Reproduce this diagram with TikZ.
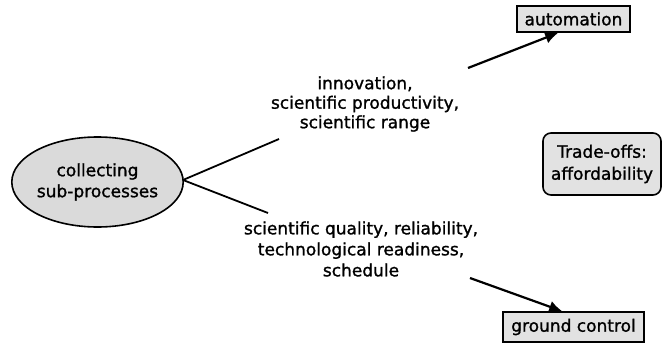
\documentclass[tikz,border=0pt]{standalone}
\usepackage{fontspec}
\setmainfont{DejaVu Sans}[FakeBold=1.2]
\usetikzlibrary{shapes.geometric,arrows.meta,calc}
\definecolor{fillgray}{HTML}{DADADA}
\definecolor{boxgray}{HTML}{E2E2E2}
\tikzset{
  txt/.style={align=center,font=\fontsize{17}{19.5}\selectfont,inner sep=0pt},
  txtlo/.style={align=center,font=\fontsize{17}{21}\selectfont,inner sep=0pt},
  oval/.style={ellipse,draw=black,line width=1.6pt,fill=fillgray,minimum width=168pt,minimum height=90pt,inner sep=0pt,align=center,font=\fontsize{17}{21}\selectfont},
  sqbox/.style={draw=black,line width=1.6pt,fill=boxgray,inner sep=0pt,font=\fontsize{17}{20}\selectfont},
  rbox/.style={draw=black,line width=1.6pt,fill=boxgray,rounded corners=8pt,inner sep=0pt,align=center,font=\fontsize{17}{22}\selectfont},
  branch/.style={line width=1.8pt},
  arr/.style={line width=2.2pt,-{Latex[length=13pt,width=12pt]}}
}
\begin{document}
\begin{tikzpicture}[x=1pt,y=-1pt]
\useasboundingbox (0,0) rectangle (662,343);
\node[oval] (src) at (97.5,182) {collecting\\sub-processes};
\node[txt] (up) at (365,104) {innovation,\\scientific productivity,\\scientific range};
\node[txtlo] (lo) at (361,249) {scientific quality, reliability,\\technological readiness,\\schedule};
\node[sqbox,minimum width=113pt,minimum height=26pt] (auto) at (573.5,19) {automation};
\node[sqbox,minimum width=141pt,minimum height=30pt] (gc) at (573.5,327) {ground control};
\node[rbox,minimum width=118pt,minimum height=62pt] (trade) at (602,164) {Trade-offs:\\affordability};
\coordinate (split) at (183,180);
\coordinate (ue) at (279,139);
\coordinate (le) at (268,213);
\draw[branch] (split) -- (ue);
\draw[branch] (split) -- (le);
\coordinate (a1) at (468,68);
\coordinate (a2) at (470,278);
\draw[arr] (a1) -- ([xshift=42pt]auto.south west);
\draw[arr] (a2) -- ([xshift=60pt]gc.north west);
\end{tikzpicture}
\end{document}
